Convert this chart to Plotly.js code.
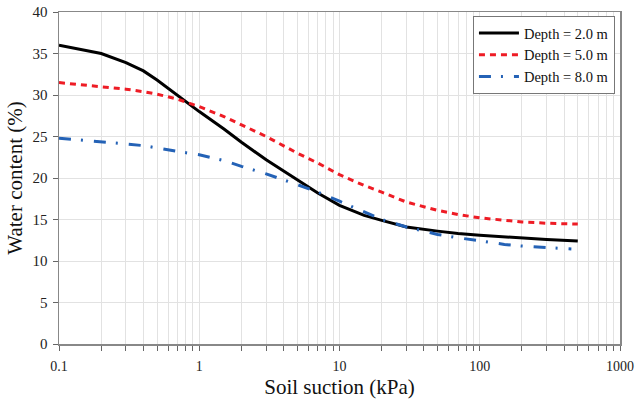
<!DOCTYPE html>
<html>
<head>
<meta charset="utf-8">
<script src="https://cdn.plot.ly/plotly-3.0.1.min.js"></script>
<style>html,body{margin:0;padding:0;background:#fff;}#chart{width:640px;height:402px;}</style>
</head>
<body>
<div id="chart"></div>
<script>
// Soil suction (kPa)
const suction = [0.1, 0.2, 0.3, 0.4, 0.5, 0.7, 1, 1.5, 2, 3, 5, 7, 10, 15, 20, 30, 50, 70, 100, 150, 200, 300, 500];
const suction8 = [0.1, 0.2, 0.3, 0.4, 0.5, 0.7, 1, 1.5, 2, 3, 5, 7, 10, 15, 20, 30, 50, 70, 100, 150, 200, 300, 450];
// Water content (%)
const depth2 = [36.0, 35.0, 33.9, 32.9, 31.8, 29.9, 28.0, 25.9, 24.3, 22.2, 19.8, 18.2, 16.7, 15.5, 14.9, 14.1, 13.6, 13.3, 13.1, 12.9, 12.8, 12.6, 12.4];
const depth5 = [31.5, 31.0, 30.7, 30.4, 30.1, 29.5, 28.6, 27.4, 26.4, 25.0, 23.0, 21.8, 20.4, 19.1, 18.3, 17.1, 16.1, 15.6, 15.2, 14.9, 14.7, 14.55, 14.45];
const depth8 = [24.8, 24.4, 24.1, 23.9, 23.6, 23.2, 22.8, 22.1, 21.4, 20.5, 19.2, 18.3, 17.2, 15.9, 15.0, 14.1, 13.2, 12.8, 12.4, 12.0, 11.8, 11.6, 11.45];
const seriesNames = ['Depth = 2.0 m', 'Depth = 5.0 m', 'Depth = 8.0 m'];
const xTickVals = [0.1,0.2,0.3,0.4,0.5,0.6,0.7,0.8,0.9,1,2,3,4,5,6,7,8,9,10,20,30,40,50,60,70,80,90,100,200,300,400,500,600,700,800,900,1000];
const xMajor = [0.1, 1, 10, 100, 1000];
const xMajorText = ['0.1', '1', '10', '100', '1000'];
const yTickVals = [0, 5, 10, 15, 20, 25, 30, 35, 40];

const xTickText = xTickVals.map(v => {
  const i = xMajor.indexOf(v);
  return i >= 0 ? xMajorText[i] : '';
});

const font = "'Liberation Serif', 'Times New Roman', serif";

const traces = [
  {x: suction, y: depth2, name: seriesNames[0], mode: 'lines', line: {color: '#000000', width: 3}},
  {x: suction, y: depth5, name: seriesNames[1], mode: 'lines', line: {color: '#ee1c25', width: 3, dash: '6px,5px'}},
  {x: suction8, y: depth8, name: seriesNames[2], mode: 'lines', line: {color: '#2462b6', width: 3, dash: '12px,10px,2px,11px'}}
];

const layout = {
  width: 640, height: 402,
  margin: {l: 59, r: 20, t: 12, b: 58},
  paper_bgcolor: '#ffffff', plot_bgcolor: '#ffffff',
  font: {family: font, size: 14, color: '#222'},
  showlegend: true,
  legend: {
    x: 0.991, y: 0.988, xanchor: 'right', yanchor: 'top',
    bgcolor: '#ffffff', bordercolor: '#777', borderwidth: 1,
    font: {family: font, size: 14.5, color: '#111'},
    tracegroupgap: 0, itemwidth: 40
  },
  xaxis: {
    type: 'log', range: [-1, 3],
    tickmode: 'array', tickvals: xTickVals, ticktext: xTickText,
    ticks: 'outside', ticklen: 5, tickcolor: '#666', tickwidth: 1,
    ticklabelstandoff: 4,
    showgrid: true, gridcolor: '#e2e2e2', gridwidth: 1,
    showline: true, linecolor: '#888', linewidth: 1.5, mirror: true,
    zeroline: false,
    tickfont: {family: font, size: 14, color: '#222'},
    title: {text: 'Soil suction (kPa)', font: {family: font, size: 21, color: '#111'}, standoff: 6}
  },
  yaxis: {
    range: [0, 40],
    tickmode: 'array', tickvals: yTickVals,
    ticks: 'outside', ticklen: 5, tickcolor: '#666', tickwidth: 1,
    ticklabelstandoff: 2,
    showgrid: true, gridcolor: '#e2e2e2', gridwidth: 1,
    showline: true, linecolor: '#888', linewidth: 1.5, mirror: true,
    zeroline: false,
    tickfont: {family: font, size: 15, color: '#222'},
    title: {text: 'Water content (%)', font: {family: font, size: 21, color: '#111'}, standoff: 4}
  }
};

Plotly.newPlot('chart', traces, layout, {displayModeBar: false, staticPlot: true});
</script>
</body>
</html>
